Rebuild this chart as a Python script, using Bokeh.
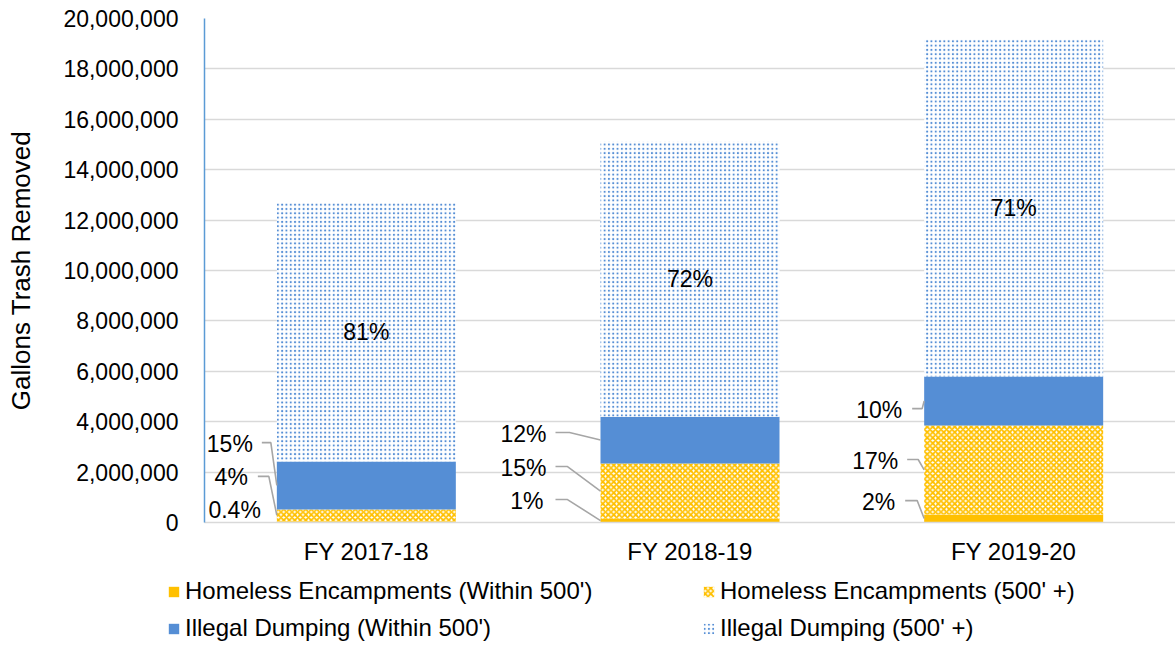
from bokeh.plotting import figure
from bokeh.layouts import column, row
from bokeh.models import (Range1d, FixedTicker, NumeralTickFormatter, Legend,
                          LegendItem, ColumnDataSource)
from bokeh.embed import file_html
from bokeh.resources import INLINE

# ---------------- data ----------------
categories = ["FY 2017-18", "FY 2018-19", "FY 2019-20"]
homeless_within = [50000, 150000, 320000]
homeless_500 = [470000, 2190000, 3530000]
illegal_within = [1900000, 1860000, 1940000]
illegal_500 = [10280000, 10920000, 13380000]

pct_homeless_within = ["0.4%", "1%", "2%"]
pct_homeless_500 = ["4%", "15%", "17%"]
pct_illegal_within = ["15%", "12%", "10%"]
pct_illegal_500 = ["81%", "72%", "71%"]

series_names = ["Homeless Encampments (Within 500')",
                "Homeless Encampments (500' +)",
                "Illegal Dumping (Within 500')",
                "Illegal Dumping (500' +)"]
y_ticks = list(range(0, 20000001, 2000000))

# ---------------- layout / style ----------------
FONT = "Liberation Sans"
FS = "23px"
GOLD = "#FFC000"
BLUE = "#558ED5"
W = 1175
H_MAIN, H_LEG = 575, 71
LEFT, TOP, BOTTOM = 204, 18, 53
FRAME_W = W - LEFT
PX = FRAME_W / 3.0          # pixels per category unit
BAR_W = 179 / PX

# left-label layout (pixels relative to each bar's left edge) and label heights (data units)
lbl_right_px = [[24, 29, 16], [54, 54, 57], [22, 26, 29]]
lbl_y = [[3130000, 1790000, 480000], [3530000, 2180000, 870000], [4480000, 2460000, 830000]]
line_start_px = [[15, 19, None], [45, 45, 45], [12, 17, 19]]
line_knee_px = [[6, 8, None], [31, 33, 33], [2, 6, 7]]

HATCH2 = dict(hatch_pattern="diagonal_cross", hatch_color=GOLD, hatch_scale=5.5, hatch_weight=1.8)
HATCH4 = dict(hatch_pattern="dot", hatch_color=BLUE, hatch_scale=4.3, hatch_weight=3.8)

x = [i + 0.5 for i in range(len(categories))]
c1 = list(homeless_within)
c2 = [a + b for a, b in zip(c1, homeless_500)]
c3 = [a + b for a, b in zip(c2, illegal_within)]
c4 = [a + b for a, b in zip(c3, illegal_500)]
zeros = [0] * len(categories)

p = figure(width=W, height=H_MAIN, output_backend="svg", toolbar_location=None,
           x_range=Range1d(0, 3), y_range=Range1d(0, 20000000),
           min_border_left=LEFT, min_border_right=0, min_border_top=TOP,
           min_border_bottom=BOTTOM)
p.outline_line_color = None
p.background_fill_color = "white"
p.border_fill_color = "white"

# grid
p.xgrid.grid_line_color = None
p.ygrid.grid_line_color = "#D9D9D9"
p.ygrid.grid_line_width = 1.5
p.ygrid.ticker = FixedTicker(ticks=y_ticks)

# axes
p.yaxis.ticker = FixedTicker(ticks=y_ticks)
p.yaxis.formatter = NumeralTickFormatter(format="0,0")
p.yaxis.axis_label = "Gallons Trash Removed"
p.yaxis.axis_label_text_font = FONT
p.yaxis.axis_label_text_font_size = "26px"
p.yaxis.axis_label_text_font_style = "normal"
p.yaxis.axis_label_text_color = "#000000"
p.yaxis.axis_label_standoff = 24
p.yaxis.major_label_text_font = FONT
p.yaxis.major_label_text_font_size = FS
p.yaxis.major_label_text_color = "#000000"
p.yaxis.major_label_standoff = 20
p.yaxis.major_tick_line_color = None
p.yaxis.minor_tick_line_color = None
p.yaxis.axis_line_color = "#5B9BD5"
p.yaxis.axis_line_width = 1.5

p.xaxis.ticker = FixedTicker(ticks=x)
p.xaxis.major_label_overrides = {xi: c for xi, c in zip(x, categories)}
p.xaxis.major_label_text_font = FONT
p.xaxis.major_label_text_font_size = "24px"
p.xaxis.major_label_text_color = "#000000"
p.xaxis.major_label_standoff = 9
p.xaxis.major_tick_line_color = None
p.xaxis.minor_tick_line_color = None
p.xaxis.axis_line_color = "#D9D9D9"
p.xaxis.axis_line_width = 1.5

# bars
r1 = p.vbar(x=x, bottom=zeros, top=c1, width=BAR_W, fill_color=GOLD, line_color=None)
r2 = p.vbar(x=x, bottom=c1, top=c2, width=BAR_W, fill_color="white", line_color=None, **HATCH2)
r3 = p.vbar(x=x, bottom=c2, top=c3, width=BAR_W, fill_color=BLUE, line_color=None)
r4 = p.vbar(x=x, bottom=c3, top=c4, width=BAR_W, fill_color="white", line_color=None, **HATCH4)

# center labels for Illegal Dumping (500' +)
mid4 = [(a + b) / 2 for a, b in zip(c3, c4)]
src_c = ColumnDataSource(dict(x=x, y=mid4, t=pct_illegal_500))
p.text(x="x", y="y", text="t", source=src_c, text_align="center", text_baseline="middle",
       text_font={"value": FONT}, text_font_size=FS, text_color="#000000")

# left labels with leader lines
seg_bottoms = [zeros, c1, c2]
seg_tops = [c1, c2, c3]
seg_labels = [pct_homeless_within, pct_homeless_500, pct_illegal_within]
order = [2, 1, 0]   # per bar in layout lists: illegal_within, homeless_500, homeless_within
lx, ly, lt = [], [], []
xs, ys = [], []
for i in range(len(categories)):
    bar_left = x[i] - BAR_W / 2
    for j, s in enumerate(order):
        lx.append(bar_left - lbl_right_px[i][j] / PX)
        ly.append(lbl_y[i][j])
        lt.append(seg_labels[s][i])
        if line_start_px[i][j] is not None:
            mid = (seg_bottoms[s][i] + seg_tops[s][i]) / 2
            xs.append([bar_left - line_start_px[i][j] / PX,
                       bar_left - line_knee_px[i][j] / PX,
                       bar_left])
            ys.append([lbl_y[i][j] + 40000, lbl_y[i][j] + 40000, mid])
p.multi_line(xs=xs, ys=ys, line_color="#A6A6A6", line_width=1.6)
src_l = ColumnDataSource(dict(x=lx, y=ly, t=lt))
p.text(x="x", y="y", text="t", source=src_l, text_align="right", text_baseline="middle",
       text_font={"value": FONT}, text_font_size=FS, text_color="#000000")

# ---------------- legend (separate strip below the chart) ----------------
q = figure(width=W, height=H_LEG, output_backend="svg", toolbar_location=None,
           x_range=Range1d(0, 1), y_range=Range1d(0, 1),
           x_axis_location=None, y_axis_location=None,
           min_border_left=0, min_border_right=0, min_border_top=0, min_border_bottom=0)
q.grid.visible = False
q.outline_line_color = None
q.border_fill_color = "white"
q.background_fill_color = "white"
# proxy bars (far outside the visible range) that carry the same styles for the legend keys
px_ = [-100]
l1 = q.vbar(x=px_, bottom=[-100], top=[-99], width=0.1, fill_color=GOLD, line_color=None)
l2 = q.vbar(x=px_, bottom=[-100], top=[-99], width=0.1, fill_color="white", line_color=None, **HATCH2)
l3 = q.vbar(x=px_, bottom=[-100], top=[-99], width=0.1, fill_color=BLUE, line_color=None)
l4 = q.vbar(x=px_, bottom=[-100], top=[-99], width=0.1, fill_color="white", line_color=None, **HATCH4)

legend = Legend(items=[LegendItem(label=series_names[0], renderers=[l1]),
                       LegendItem(label=series_names[1], renderers=[l2]),
                       LegendItem(label=series_names[2], renderers=[l3]),
                       LegendItem(label=series_names[3], renderers=[l4])],
                orientation="horizontal", ncols=2,
                location=(167, 4),
                label_text_font=FONT, label_text_font_size="24px", label_text_color="#000000",
                glyph_width=13, glyph_height=13, label_standoff=5,
                label_width=508, spacing=9, padding=0, margin=0,
                background_fill_alpha=0, border_line_color=None)
q.add_layout(legend, "center")

layout = column(p, row(q, spacing=0), spacing=0)
open("out.html", "w").write(file_html(layout, INLINE))
